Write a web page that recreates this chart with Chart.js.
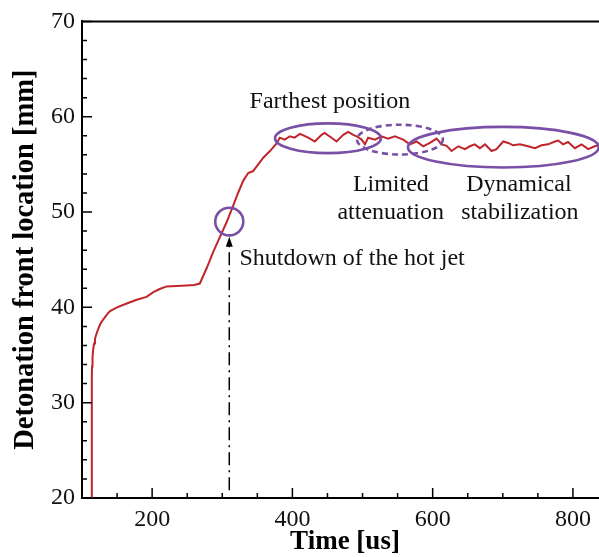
<!DOCTYPE html>
<html>
<head>
<meta charset="utf-8">
<script src="https://cdn.jsdelivr.net/npm/chart.js@4.4.0/dist/chart.umd.min.js"></script>
<style>
  html, body { margin: 0; padding: 0; background: #fff; overflow: hidden; }
  #caixa { position: relative; width: 620px; height: 557px; }
</style>
</head>
<body>
<div id="caixa"><canvas id="grafico"></canvas></div>
<script>
// tempo [us] e posicao da frente de detonacao [mm]
const tempos = [114, 114, 114.3, 115, 116, 117.2, 118.5, 121, 123.5, 125.7, 129, 132, 136, 140, 150, 163.7, 178, 192, 201.8, 210, 220.7,
  235, 249, 260, 268, 277.7, 287, 296.7, 306, 315.7, 322.8, 330, 337, 344, 351.3, 358.5, 368, 377.5,
  382, 389, 396.5, 403, 410.8, 422.6, 432, 441.6, 446, 455.8, 463, 472.5, 479.6, 486.7, 491.5, 498.7,
  503.4, 508, 517.7, 527, 536.6, 546, 558, 567.6, 577, 586.5, 596, 605.6, 612.8, 620, 627, 636.5, 646,
  653, 660, 667.4, 674.5, 684, 691, 700.6, 707.7, 714.8, 724.4, 736, 745.8, 755.3, 764.7, 774.3, 779,
  786, 793, 802.8, 812.3, 821.8, 831, 837, 845];
const posicoes = [20, 32.6, 33.8, 34.8, 35.6, 36.2, 36.7, 37.3, 37.8, 38.2, 38.6, 38.9, 39.3, 39.6, 40.0, 40.4, 40.8, 41.1, 41.6, 41.9, 42.2,
  42.25, 42.3, 42.35, 42.5, 44.1, 45.8, 47.4, 48.9, 50.7, 52.05, 53.3, 54.1, 54.3, 55.0, 55.7, 56.4, 57.2,
  57.8, 57.6, 57.95, 57.8, 58.2, 57.8, 57.4, 58.1, 58.3, 57.8, 57.4, 58.1, 58.4, 58.1, 57.95, 57.6,
  57.1, 57.8, 57.6, 57.95, 57.7, 57.95, 57.6, 57.1, 57.4, 56.9, 57.25, 57.7, 57.1, 56.95, 56.4, 56.9, 56.6,
  56.9, 57.1, 56.7, 57.1, 56.4, 56.6, 57.4, 57.25, 57.0, 57.1, 56.9, 56.7, 57.0, 57.1, 57.4, 57.5,
  57.1, 57.35, 56.7, 57.1, 56.6, 56.9, 57.0, 56.9];

const ticksX = [200, 400, 600, 800];
const ticksY = [20, 30, 40, 50, 60, 70];
const menoresX = [150, 250, 300, 350, 450, 500, 550, 650, 700, 750, 850];
const menoresY = [22, 24, 26, 28, 32, 34, 36, 38, 42, 44, 46, 48, 52, 54, 56, 58, 62, 64, 66, 68];

// anotacoes em coordenadas de dados
const elipses = [
  { cx: 310, cy: 49.0, rx: 20, ry: 1.45, tracejada: false },
  { cx: 450.7, cy: 57.74, rx: 75.5, ry: 1.56, tracejada: false },
  { cx: 553.3, cy: 57.6, rx: 61.3, ry: 1.56, tracejada: true },
  { cx: 700.8, cy: 56.8, rx: 136, ry: 2.13, tracejada: false }
];
const textos = [
  { t: 'Farthest position', x: 453.5, y: 60.9, align: 'center' },
  { t: 'Limited', x: 540.4, y: 52.2, align: 'center' },
  { t: 'attenuation', x: 540.2, y: 49.3, align: 'center' },
  { t: 'Dynamical', x: 723, y: 52.2, align: 'center' },
  { t: 'stabilization', x: 724.4, y: 49.3, align: 'center' },
  { t: 'Shutdown of the hot jet', x: 324.5, y: 44.4, align: 'left' }
];
const seta = { x: 310, de: 20.8, ate: 47.4 };

const serif = '"Liberation Serif", "Times New Roman", serif';
const roxo = '#7a4fa6';

const molduraPlugin = {
  id: 'moldura',
  afterDatasetsDraw(chart) {
    const { ctx, chartArea: a, scales: { x, y } } = chart;
    ctx.save();
    ctx.strokeStyle = '#000';
    ctx.lineWidth = 2;
    ctx.beginPath();
    ctx.moveTo(a.left - 1, a.top);
    ctx.lineTo(a.right, a.top);
    ctx.stroke();

    // tracos para dentro
    ctx.lineWidth = 1.5;
    ctx.beginPath();
    ticksX.forEach(v => { const px = x.getPixelForValue(v); ctx.moveTo(px, a.bottom); ctx.lineTo(px, a.bottom - 10); });
    menoresX.forEach(v => { const px = x.getPixelForValue(v); ctx.moveTo(px, a.bottom); ctx.lineTo(px, a.bottom - 5); });
    ticksY.forEach(v => { const py = y.getPixelForValue(v); ctx.moveTo(a.left, py); ctx.lineTo(a.left + 10, py); });
    menoresY.forEach(v => { const py = y.getPixelForValue(v); ctx.moveTo(a.left, py); ctx.lineTo(a.left + 5, py); });
    ctx.stroke();

    // elipses
    ctx.strokeStyle = roxo;
    ctx.lineWidth = 2.6;
    elipses.forEach(e => {
      const cx = x.getPixelForValue(e.cx), cy = y.getPixelForValue(e.cy);
      const rx = Math.abs(x.getPixelForValue(e.cx + e.rx) - cx);
      const ry = Math.abs(y.getPixelForValue(e.cy + e.ry) - cy);
      ctx.setLineDash(e.tracejada ? [6, 4] : []);
      ctx.beginPath();
      ctx.ellipse(cx, cy, rx, ry, 0, 0, Math.PI * 2);
      ctx.stroke();
    });

    // seta do desligamento do jato
    const sx = x.getPixelForValue(seta.x);
    const y0 = y.getPixelForValue(seta.de), y1 = y.getPixelForValue(seta.ate);
    ctx.strokeStyle = '#000';
    ctx.fillStyle = '#000';
    ctx.lineWidth = 1.5;
    ctx.setLineDash([13, 5, 2, 5]);
    ctx.beginPath();
    ctx.moveTo(sx, y0);
    ctx.lineTo(sx, y1 + 8);
    ctx.stroke();
    ctx.setLineDash([]);
    ctx.beginPath();
    ctx.moveTo(sx, y1);
    ctx.lineTo(sx - 3.5, y1 + 10);
    ctx.lineTo(sx + 3.5, y1 + 10);
    ctx.closePath();
    ctx.fill();

    // textos
    ctx.font = '24px ' + serif;
    ctx.fillStyle = '#111';
    ctx.textBaseline = 'alphabetic';
    textos.forEach(tx => {
      ctx.textAlign = tx.align;
      ctx.fillText(tx.t, x.getPixelForValue(tx.x), y.getPixelForValue(tx.y));
    });
    ctx.restore();
  }
};

new Chart(document.getElementById('grafico'), {
  type: 'line',
  data: {
    labels: tempos,
    datasets: [{
      data: tempos.map((t, i) => ({ x: t, y: posicoes[i] })),
      borderColor: '#c0252b',
      borderWidth: 2,
      pointRadius: 0,
      tension: 0,
      fill: false
    }]
  },
  options: {
    responsive: true,
    maintainAspectRatio: false,
    animation: false,
    layout: { padding: { top: 18, right: 12, left: 0, bottom: 0 } },
    plugins: { legend: { display: false }, tooltip: { enabled: false } },
    scales: {
      x: {
        type: 'linear',
        min: 100,
        max: 850,
        afterBuildTicks: s => { s.ticks = ticksX.map(v => ({ value: v })); },
        afterFit: s => { s.height = 59; },
        grid: { display: true, drawOnChartArea: false, drawTicks: false },
        border: { display: true, color: '#000', width: 2 },
        ticks: { color: '#111', padding: 7, maxRotation: 0, font: { family: serif, size: 24 } },
        title: {
          display: true, text: 'Time [us]', color: '#000',
          font: { family: serif, size: 27, weight: 'bold', lineHeight: 1 },
          padding: { top: 0, bottom: 1 }
        }
      },
      y: {
        min: 20,
        max: 70,
        afterBuildTicks: s => { s.ticks = ticksY.map(v => ({ value: v })); },
        afterFit: s => { s.width = 82; },
        grid: { display: true, drawOnChartArea: false, drawTicks: false },
        border: { display: true, color: '#000', width: 2 },
        ticks: { color: '#111', padding: 7, font: { family: serif, size: 24 } },
        title: {
          display: true, text: 'Detonation front location [mm]', color: '#000',
          font: { family: serif, size: 28.5, weight: 'bold', lineHeight: 1 },
          padding: { top: 11, bottom: 0 }
        }
      }
    }
  },
  plugins: [molduraPlugin]
});
</script>
</body>
</html>
